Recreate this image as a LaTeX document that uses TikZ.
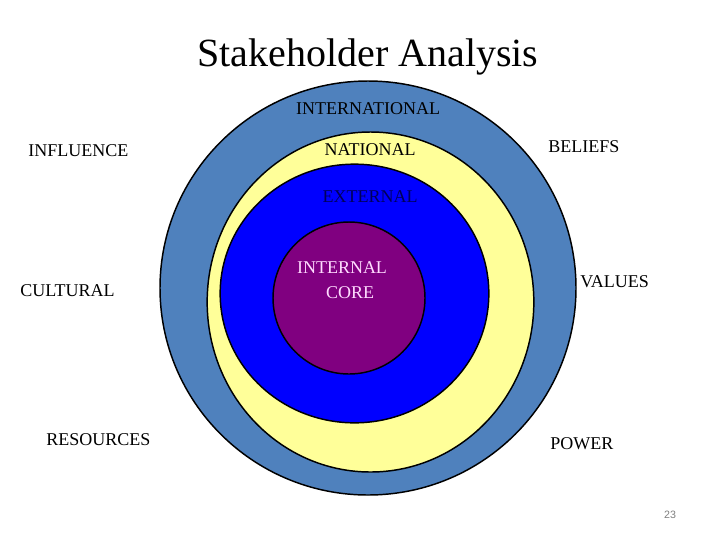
\documentclass[tikz,border=0pt]{standalone}
\usepackage{fontspec}
\setmainfont{Liberation Serif}
\newfontfamily\numfont{Liberation Sans}
\usetikzlibrary{shapes.geometric}
\definecolor{ringouter}{RGB}{79,129,189}
\definecolor{ringyellow}{RGB}{255,255,153}
\definecolor{ringblue}{RGB}{0,0,255}
\definecolor{ringpurple}{RGB}{128,0,128}
\definecolor{navytext}{RGB}{0,0,90}
\definecolor{coretext}{RGB}{255,220,255}
\tikzset{
  ring/.style={ellipse, draw=black, line width=1.1pt, inner sep=0pt},
  lbl/.style={font=\fontsize{13.5}{15}\selectfont, inner sep=0pt},
}
\begin{document}
\begin{tikzpicture}[x=0.75pt,y=-0.75pt]
\useasboundingbox (0,0) rectangle (720,540);
\fill[white] (0,0) rectangle (720,540);
\node (title) at (368,57) {\fontsize{30}{34}\selectfont Stakeholder Analysis};
\node[ring, fill=ringouter, minimum width=312pt, minimum height=310.5pt] (outer) at (368,288) {};
\node[ring, fill=ringyellow, minimum width=245pt, minimum height=255pt] (yellow) at (370.5,302) {};
\node[ring, fill=ringblue, minimum width=201.5pt, minimum height=194pt] (blue) at (354.5,293.5) {};
\node[ring, fill=ringpurple, minimum width=114pt, minimum height=114pt] (core) at (349,298) {};
\node[lbl] (intl) at (368,109) {INTERNATIONAL};
\node[lbl] (natl) at (370,150) {NATIONAL};
\node[lbl, text=navytext] (ext) at (370,197) {EXTERNAL};
\node[lbl, text=coretext] (int) at (342,268) {INTERNAL};
\node[lbl, text=coretext] (cor) at (350,293) {CORE};
\node[lbl, anchor=west] (infl) at (28,151) {INFLUENCE};
\node[lbl, anchor=west] (cult) at (20,291) {CULTURAL};
\node[lbl, anchor=west] (res) at (46,440) {RESOURCES};
\node[lbl, anchor=west] (bel) at (548,147) {BELIEFS};
\node[lbl, anchor=west] (val) at (580,282) {VALUES};
\node[lbl, anchor=west] (pow) at (550,444) {POWER};
\node[text=gray, font=\numfont\fontsize{8}{9}\selectfont] (pg) at (670,515) {23};
\end{tikzpicture}
\end{document}
